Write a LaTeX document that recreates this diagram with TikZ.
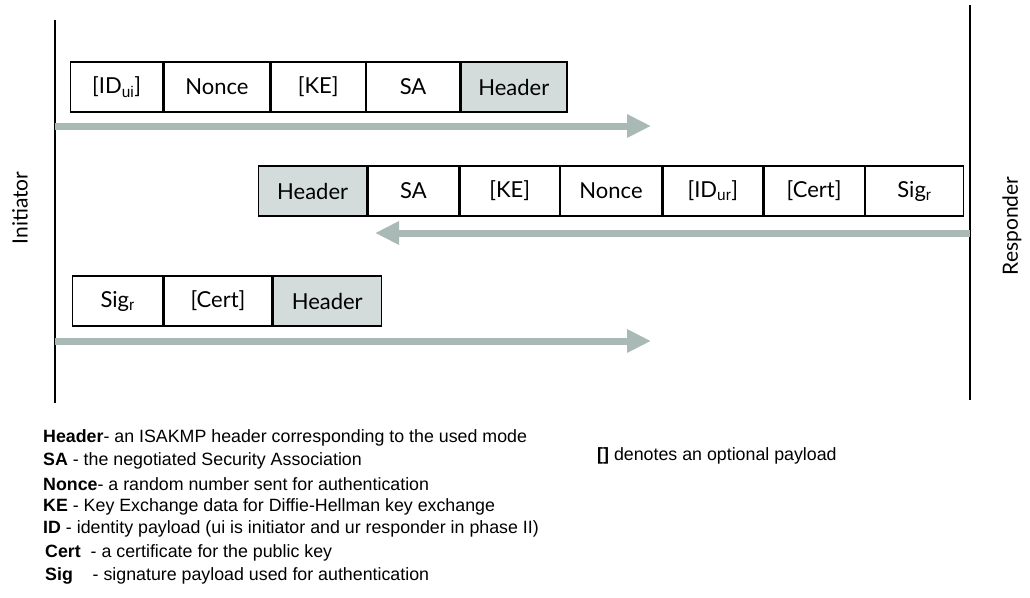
\documentclass[tikz,border=0pt]{standalone}
\usepackage{fontspec}
\setmainfont{Liberation Sans}
\newfontfamily\boxfont{Lato}
\usetikzlibrary{arrows.meta}
\definecolor{arrowc}{HTML}{A9B9B6}
\definecolor{hdrfill}{HTML}{D3DCDB}
\begin{document}
\begin{tikzpicture}[x=1pt,y=-1pt,
  pbox/.style={draw=black,line width=1.3pt,minimum height=50pt,inner sep=0pt,font=\boxfont\fontsize{22}{24}\selectfont,anchor=west},
  hdr/.style={pbox,fill=hdrfill},
  flow/.style={draw=arrowc,line width=7pt,-{Triangle[width=22pt,length=24pt]}},
  life/.style={draw=black,line width=1.2pt},
  legend/.style={anchor=west,inner sep=0pt,font=\fontsize{17.8}{20}\selectfont}]
\useasboundingbox (0,0) rectangle (1030,597);
% lifelines
\coordinate (i1) at (55,20); \coordinate (i2) at (55,403);
\coordinate (r1) at (970,5); \coordinate (r2) at (970,400);
\draw[life] (i1) -- (i2);
\draw[life] (r1) -- (r2);
\node[rotate=90,font=\boxfont\fontsize{21}{24}\selectfont] (ini) at (20,208) {Initiator};
\node[rotate=90,font=\boxfont\fontsize{21}{24}\selectfont] (resp) at (1012,226) {Responder};
% row 1
\node[pbox,minimum width=92pt] (a1) at (70,87) {[ID$_{\mathrm{ui}}$]};
\node[pbox,minimum width=106pt] (a2) at (a1.east) {Nonce};
\node[pbox,minimum width=94pt] (a3) at (a2.east) {[KE]};
\node[pbox,minimum width=93pt] (a4) at (a3.east) {SA};
\node[hdr,minimum width=106pt] (a5) at (a4.east) {Header};
\coordinate (s1) at (55,126); \coordinate (e1) at (651,126);
\draw[flow] (s1) -- (e1);
% row 2
\node[hdr,minimum width=108pt] (b1) at (258,191) {Header};
\node[pbox,minimum width=91pt] (b2) at (b1.east) {SA};
\node[pbox,minimum width=99pt] (b3) at (b2.east) {[KE]};
\node[pbox,minimum width=101pt] (b4) at (b3.east) {Nonce};
\node[pbox,minimum width=100pt] (b5) at (b4.east) {[ID$_{\mathrm{ur}}$]};
\node[pbox,minimum width=100pt] (b6) at (b5.east) {[Cert]};
\node[pbox,minimum width=98pt] (b7) at (b6.east) {Sig$_{\mathrm{r}}$};
\coordinate (s2) at (970,233); \coordinate (e2) at (375,233);
\draw[flow] (s2) -- (e2);
% row 3
\node[pbox,minimum width=90pt] (c1) at (72,301) {Sig$_{\mathrm{r}}$};
\node[pbox,minimum width=108pt] (c2) at (c1.east) {[Cert]};
\node[hdr,minimum width=108pt] (c3) at (c2.east) {Header};
\coordinate (s3) at (55,341); \coordinate (e3) at (651,341);
\draw[flow] (s3) -- (e3);
% legend
\node[legend] (l1) at (43,438) {\textbf{Header}- an ISAKMP header corresponding to the used mode};
\node[legend] (l2) at (43,461) {\textbf{SA} - the negotiated Security Association};
\node[legend] (l3) at (43,484) {\textbf{Nonce}- a random number sent for authentication};
\node[legend] (l4) at (43,507) {\textbf{KE} - Key Exchange data for Diffie-Hellman key exchange};
\node[legend] (l5) at (43,529) {\textbf{ID} - identity payload (ui is initiator and ur responder in phase II)};
\node[legend] (l6) at (45,553) {\textbf{Cert}\ \ - a certificate for the public key};
\node[legend] (l7) at (45,576) {\textbf{Sig}\ \ \ \ - signature payload used for authentication};
\node[legend] (l8) at (597,456) {\textbf{[]} denotes an optional payload};
\end{tikzpicture}
\end{document}
